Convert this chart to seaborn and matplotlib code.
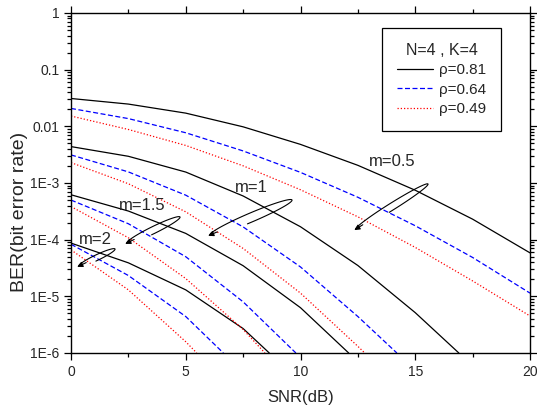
import numpy as np
import pandas as pd
import seaborn as sns
import matplotlib.pyplot as plt
from matplotlib.lines import Line2D
from matplotlib.ticker import NullFormatter

# data (SNR in dB, BER)
snr_m05 = [0, 2.5, 5, 7.5, 10, 12.5, 15, 17.5, 20]
ber_m05_r81 = [3.1e-2, 2.47e-2, 1.71e-2, 9.8e-3, 4.8e-3, 2.05e-3, 7.45e-4, 2.3e-4, 5.85e-5]
ber_m05_r64 = [2.07e-2, 1.37e-2, 7.7e-3, 3.68e-3, 1.54e-3, 5.6e-4, 1.76e-4, 4.85e-5, 1.14e-5]
ber_m05_r49 = [1.52e-2, 8.8e-3, 4.6e-3, 2.01e-3, 7.6e-4, 2.53e-4, 7.3e-5, 1.87e-5, 4.5e-6]

snr_m1_r81 = [0, 2.5, 5, 7.5, 10, 12.5, 15, 16.9]
ber_m1_r81 = [4.39e-3, 2.96e-3, 1.56e-3, 5.9e-4, 1.69e-4, 3.5e-5, 5.15e-6, 1e-6]
snr_m1_r64 = [0, 2.5, 5, 7.5, 10, 12.5, 14.2]
ber_m1_r64 = [3.13e-3, 1.57e-3, 6.1e-4, 1.68e-4, 3.3e-5, 4.4e-6, 1e-6]
snr_m1_r49 = [0, 2.5, 5, 7.5, 10, 12.5, 12.8]
ber_m1_r49 = [2.29e-3, 9.7e-4, 3.1e-4, 7.0e-5, 1.14e-5, 1.31e-6, 1e-6]

snr_m15_r81 = [0, 2.5, 5, 7.5, 10, 12.1]
ber_m15_r81 = [6.2e-4, 3.2e-4, 1.29e-4, 3.47e-5, 6.3e-6, 1e-6]
snr_m15_r64 = [0, 2.5, 5, 7.5, 9.8]
ber_m15_r64 = [5.0e-4, 1.91e-4, 5.0e-5, 8.0e-6, 1e-6]
snr_m15_r49 = [0, 2.5, 5, 7.5, 8.45]
ber_m15_r49 = [3.84e-4, 1.08e-4, 2.06e-5, 2.6e-6, 1e-6]

snr_m2_r81 = [0, 2.5, 5, 7.5, 8.64]
ber_m2_r81 = [8.7e-5, 3.9e-5, 1.3e-5, 2.7e-6, 1e-6]
snr_m2_r64 = [0, 2.5, 5, 6.64]
ber_m2_r64 = [8.3e-5, 2.33e-5, 4.4e-6, 1e-6]
snr_m2_r49 = [0, 2.5, 5, 5.48]
ber_m2_r49 = [6.6e-5, 1.3e-5, 1.58e-6, 1e-6]

rho_labels = ["0.81", "0.64", "0.49"]
y_ticks = [1e-6, 1e-5, 1e-4, 1e-3, 1e-2, 1e-1, 1]
y_ticklabels = ["1E-6", "1E-5", "1E-4", "1E-3", "0.01", "0.1", "1"]

curves = [
    ("0.5", "0.81", snr_m05, ber_m05_r81), ("0.5", "0.64", snr_m05, ber_m05_r64),
    ("0.5", "0.49", snr_m05, ber_m05_r49),
    ("1", "0.81", snr_m1_r81, ber_m1_r81), ("1", "0.64", snr_m1_r64, ber_m1_r64),
    ("1", "0.49", snr_m1_r49, ber_m1_r49),
    ("1.5", "0.81", snr_m15_r81, ber_m15_r81), ("1.5", "0.64", snr_m15_r64, ber_m15_r64),
    ("1.5", "0.49", snr_m15_r49, ber_m15_r49),
    ("2", "0.81", snr_m2_r81, ber_m2_r81), ("2", "0.64", snr_m2_r64, ber_m2_r64),
    ("2", "0.49", snr_m2_r49, ber_m2_r49),
]
rows = []
for m, rho, xs, ys in curves:
    for x, y in zip(xs, ys):
        rows.append({"snr": x, "ber": y, "m": m, "rho": rho})
df = pd.DataFrame(rows)

sns.set_style("ticks")
plt.rcParams['font.family'] = ['Liberation Sans', 'DejaVu Sans']

W, H = 537, 407
AX_L, AX_R, AX_T, AX_B = 71, 530, 13, 353
fig = plt.figure(figsize=(W / 100, H / 100), dpi=100)
ax = fig.add_axes([AX_L / W, 1 - AX_B / H, (AX_R - AX_L) / W, (AX_B - AX_T) / H])

palette = {"0.81": "black", "0.64": "blue", "0.49": "red"}
dashes = {"0.81": "", "0.64": (4, 2), "0.49": (1, 1.6)}
sns.lineplot(data=df, x="snr", y="ber", hue="rho", style="rho", units="m",
             estimator=None, sort=False, hue_order=rho_labels, style_order=rho_labels,
             palette=palette, dashes=dashes, linewidth=0.9, legend=False, ax=ax)

ax.set_yscale("log")
ax.set_xlim(0, 20)
ax.set_ylim(1e-6, 1)
ax.set_xticks([0, 5, 10, 15, 20])
ax.set_xticks([2.5, 7.5, 12.5, 17.5], minor=True)
ax.set_xticklabels(["0", "5", "10", "15", "20"])
ax.set_yticks(y_ticks)
ax.set_yticklabels(y_ticklabels)
ax.yaxis.set_minor_formatter(NullFormatter())
ax.tick_params(which="both", direction="out", top=True, right=True,
               labelsize=10, width=0.9, color="black")
ax.tick_params(which="major", length=5)
ax.tick_params(which="minor", length=3)
for sp in ax.spines.values():
    sp.set_linewidth(1.0)
    sp.set_color("black")

ax.set_xlabel("SNR(dB)", fontsize=12, labelpad=8)
ax.set_ylabel("BER(bit error rate)", fontsize=14)
ax.yaxis.set_label_coords(-0.094, 0.415)


def px(x, y):
    # reference pixel -> axes fraction
    return ((x - AX_L) / (AX_R - AX_L), (AX_B - y) / (AX_B - AX_T))


# m labels with looped arrows
loops = [
    ("m=0.5", (392, 161), (356, 229), (428, 184), 3.5),
    ("m=1", (251, 187), (210, 235), (292, 200), 4.5),
    ("m=1.5", (142, 206), (127, 243), (180, 217), 3.5),
    ("m=2", (95, 240), (79, 266), (115, 249), 2.8),
]
for label, tpos, tip, end, b in loops:
    ax.text(*px(*tpos), label, transform=ax.transAxes, fontsize=12,
            ha="center", va="center")
    tip = np.array(tip, float)
    end = np.array(end, float)
    c = (tip + end) / 2
    a = np.linalg.norm(end - tip) / 2
    u = (end - tip) / (2 * a)
    v = np.array([-u[1], u[0]])
    t = np.linspace(np.pi, 2 * np.pi + 1.7, 120)
    pts = c + np.outer(a * np.cos(t), u) + np.outer(b * np.sin(t), v)
    fx, fy = zip(*[px(p[0], p[1]) for p in pts])
    ax.plot(fx, fy, color="black", lw=0.8, transform=ax.transAxes)
    start = tip + u * 8
    ax.annotate("", xy=px(*(tip - u * 2)), xytext=px(*start),
                xycoords="axes fraction", textcoords="axes fraction",
                arrowprops=dict(arrowstyle="-|>", color="black", lw=0.8,
                                mutation_scale=8, shrinkA=0, shrinkB=0))

# legend
handles = [Line2D([], [], color=palette[r], lw=0.9) for r in rho_labels]
handles[1].set_dashes((4, 2))
handles[2].set_dashes((1, 1.6))
leg = ax.legend(handles, ["ρ=" + r for r in rho_labels], title="N=4 , K=4",
                loc="upper left", bbox_to_anchor=px(382, 28), borderaxespad=0,
                fontsize=11, title_fontsize=11.5, frameon=True, fancybox=False,
                edgecolor="black", framealpha=1, handlelength=2.4,
                handletextpad=0.4, labelspacing=0.36, borderpad=0.95)
leg.get_frame().set_linewidth(0.9)

fig.savefig("out.png", dpi=100)
